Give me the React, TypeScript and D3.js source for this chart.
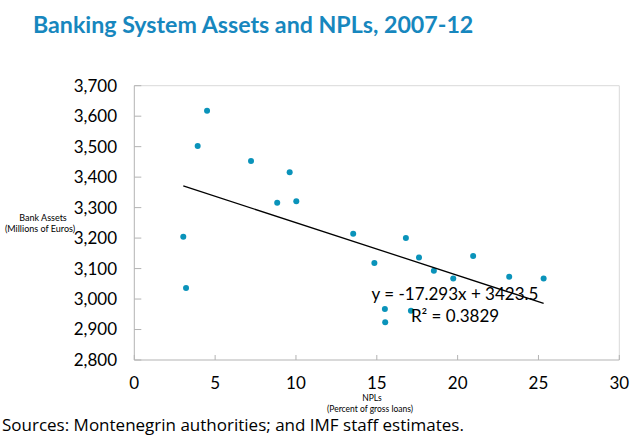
import React from "react";
import * as d3 from "d3";

// NPLs (percent of gross loans) vs bank assets (millions of euros)
const nplValues = [4.5, 3.92, 7.22, 9.61, 8.84, 10.02, 3.03, 3.2, 13.54, 14.85, 16.8, 17.61, 18.53, 19.73, 20.96, 23.19, 25.32, 15.5, 15.52, 17.11];
const assetValues = [3618, 3502, 3453, 3416, 3316, 3321, 3204, 3036, 3214, 3118, 3200, 3136, 3093, 3067, 3141, 3073, 3067, 2967, 2924, 2962];

const xTicks = [0, 5, 10, 15, 20, 25, 30];
const yTicks = [2800, 2900, 3000, 3100, 3200, 3300, 3400, 3500, 3600, 3700];

const trendSlope = -17.293;
const trendIntercept = 3423.5;
const trendLabel = "y = -17.293x + 3423.5";
const r2Label = "R² = 0.3829";

const title = "Banking System Assets and NPLs, 2007-12";
const source = "Sources: Montenegrin authorities; and IMF staff estimates.";

const W = 630;
const H = 435;
const margin = { left: 134.3, right: 630 - 619.3, top: 85.7, bottom: 435 - 360 };
const calibri = "Lato, 'Open Sans', sans-serif";

export default function App() {
  const x = d3.scaleLinear().domain([0, 30]).range([margin.left, W - margin.right]);
  const y = d3.scaleLinear().domain([2800, 3700]).range([H - margin.bottom, margin.top]);
  const fmt = d3.format(",");

  const xMin = d3.min(nplValues) as number;
  const xMax = d3.max(nplValues) as number;
  const trend = d3.line<number>()
    .x((d) => x(d))
    .y((d) => y(trendSlope * d + trendIntercept));

  const x0 = x(0), x1 = x(30), y0 = y(2800), y1 = y(3700);

  return (
    <svg width={W} height={H} style={{ position: "absolute", left: 0, top: 0, background: "#fff" }}>
      <text x={33} y={33} fill="#1787BE" fontFamily={calibri} fontWeight={700} fontSize={23.2}>{title}</text>

      {/* plot frame */}
      <line x1={x0} x2={x1} y1={y1} y2={y1} stroke="#d9d9d9" />
      <line x1={x1} x2={x1} y1={y1} y2={y0} stroke="#d9d9d9" />
      <line x1={x0} x2={x0} y1={y1} y2={y0} stroke="#b3b3b3" />
      <line x1={x0} x2={x1} y1={y0} y2={y0} stroke="#b3b3b3" />

      {yTicks.map((t) => (
        <g key={t}>
          <line x1={x0} x2={x0 + 7} y1={y(t)} y2={y(t)} stroke="#b3b3b3" />
          <text x={117} y={y(t)} dy="0.35em" textAnchor="end" fontFamily={calibri} fontSize={17} fill="#000">{fmt(t)}</text>
        </g>
      ))}
      {xTicks.map((t) => (
        <g key={t}>
          <line x1={x(t)} x2={x(t)} y1={y0} y2={y0 - 5} stroke="#b3b3b3" />
          <text x={x(t)} y={389} textAnchor="middle" fontFamily={calibri} fontSize={17} fill="#000">{t}</text>
        </g>
      ))}

      <text x={41} textAnchor="middle" fontFamily={calibri} fontSize={9} fill="#000">
        <tspan x={43} y={220.5}>Bank Assets</tspan>
        <tspan x={40} y={231.5}>(Millions of Euros)</tspan>
      </text>
      <text textAnchor="middle" fontFamily={calibri} fontSize={8.5} fill="#000">
        <tspan x={372} y={401}>NPLs</tspan>
        <tspan x={370} y={412}>(Percent of gross loans)</tspan>
      </text>

      {nplValues.map((v, i) => (
        <circle key={i} cx={x(v)} cy={y(assetValues[i])} r={3} fill="#0A93BA" />
      ))}

      <path d={trend([xMin, xMax]) ?? ""} stroke="#000" strokeWidth={1.3} fill="none" />

      <text textAnchor="middle" fontFamily={calibri} fontSize={17} fill="#000">
        <tspan x={455} y={300}>{trendLabel}</tspan>
        <tspan x={455} y={321.7}>{r2Label}</tspan>
      </text>

      <text x={2} y={431} fontFamily="'Open Sans', sans-serif" fontSize={17} fill="#000">{source}</text>
    </svg>
  );
}
